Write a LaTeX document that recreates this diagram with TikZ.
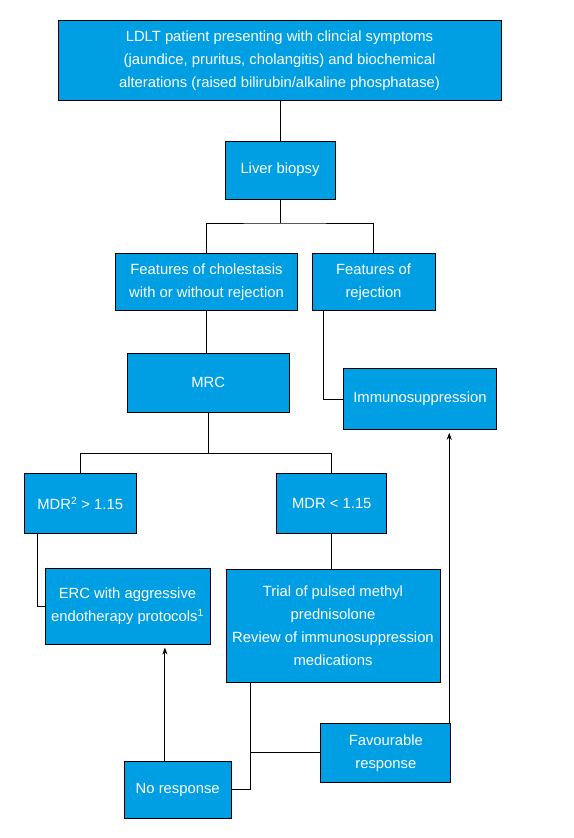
\documentclass[tikz,border=0pt]{standalone}
\usepackage{fontspec}
\setmainfont{Liberation Sans}
\usetikzlibrary{calc,arrows.meta}
\definecolor{boxblue}{RGB}{0,158,226}
\tikzset{
  box/.style={draw=black, line width=0.9pt, fill=boxblue, text=white, align=center,
    inner sep=0pt, font=\fontsize{14.8}{23}\selectfont},
  conn/.style={draw=black, line width=0.9pt},
  arr/.style={conn, -{Stealth[length=7pt,width=5pt]}, shorten >=3pt}
}
\begin{document}
\begin{tikzpicture}[x=1pt,y=-1pt]
\useasboundingbox (0,0) rectangle (573,838);
\node[box, minimum width=443pt, minimum height=80pt] (top) at (279.5,60.8)
  {LDLT patient presenting with clincial symptoms\\(jaundice, pruritus, cholangitis) and biochemical\\alterations (raised bilirubin/alkaline phosphatase)};
\node[box, minimum width=110pt, minimum height=58pt] (liver) at (280,170) {Liver biopsy};
\node[box, minimum width=182pt, minimum height=57pt] (chol) at (206.5,281.7) {Features of cholestasis\\with or without rejection};
\node[box, minimum width=123pt, minimum height=57pt] (rej) at (373.5,281.7) {Features of\\rejection};
\node[box, minimum width=162pt, minimum height=59pt] (mrc) at (208.2,382.8) {MRC};
\node[box, minimum width=153pt, minimum height=60.6pt] (imm) at (420,399) {Immunosuppression};
\node[box, minimum width=112pt, minimum height=60pt] (mdrg) at (80.2,503.3) {MDR\textsuperscript{2} > 1.15};
\node[box, minimum width=110pt, minimum height=60pt] (mdrl) at (331.8,503.3) {MDR < 1.15};
\node[box, minimum width=165pt, minimum height=75.7pt] (erc) at (127.5,606.2) {ERC with aggressive\\endotherapy protocols\textsuperscript{1}};
\node[box, minimum width=214pt, minimum height=113pt] (trial) at (333,625.8) {Trial of pulsed methyl\\prednisolone\\Review of immunosuppression\\medications};
\node[box, minimum width=130pt, minimum height=59pt] (fav) at (385.8,752.8) {Favourable\\response};
\node[box, minimum width=106.7pt, minimum height=57pt] (nores) at (177.7,789.8) {No response};
% connectors
\coordinate (j1) at (280,223);
\draw[conn] (liver.north |- top.south) -- (liver.north);
\draw[conn] (liver.south) -- (j1);
\draw[conn] (chol.north) |- (j1) -| (rej.north);
\coordinate (r1) at ($(rej.south west)+(12,0)$);
\draw[conn] (r1) |- (imm.west);
\draw[conn] (chol.south) -- (chol.south |- mrc.north);
\coordinate (j2) at (208.2,453.3);
\draw[conn] (mrc.south) -- (j2);
\draw[conn] (mdrg.north) |- (j2) -| (mdrl.north);
\coordinate (m1) at ($(mdrg.south west)+(13.7,0)$);
\draw[conn] (m1) |- (erc.west);
\draw[conn] (mdrl.south) -- (mdrl.south |- trial.north);
\coordinate (t1) at ($(trial.south west)+(25,0)$);
\draw[conn] (t1) |- (nores.east);
\draw[conn] (t1 |- fav.west) -- (fav.west);
\coordinate (n1) at ($(nores.north west)+(41,0)$);
\draw[arr] (n1) -- (n1 |- erc.south);
\coordinate (f1) at ($(fav.north east)+(-2,0)$);
\draw[arr] (f1) -- (f1 |- imm.south);
\end{tikzpicture}
\end{document}
